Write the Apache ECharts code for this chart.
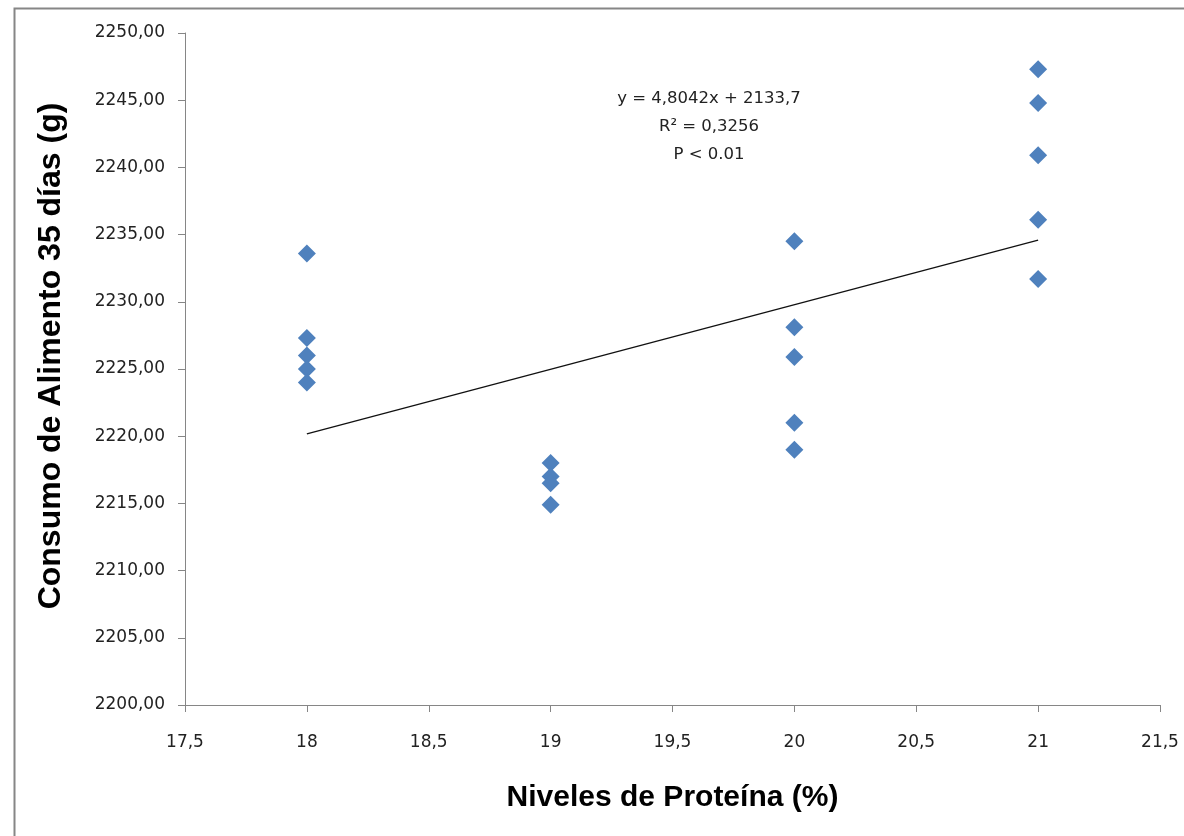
<!DOCTYPE html>
<html>
<head>
<meta charset="utf-8">
<script src="https://cdn.jsdelivr.net/npm/echarts@6/dist/echarts.min.js"></script>
<style>
html,body{margin:0;padding:0;background:#fff;}
#chart{width:1184px;height:836px;}
</style>
</head>
<body>
<div id="chart"></div>
<script>
// Data
const proteinLevels = [18, 19, 20, 21];
const consumo18 = [2233.6, 2227.3, 2226.0, 2225.0, 2224.0];
const consumo19 = [2218.0, 2217.0, 2216.5, 2214.9];
const consumo20 = [2234.5, 2228.1, 2225.9, 2221.0, 2219.0];
const consumo21 = [2247.3, 2244.8, 2240.9, 2236.1, 2231.7];
const trendSlope = 4.8042;
const trendIntercept = 2133.7;
const xTicks = [17.5, 18, 18.5, 19, 19.5, 20, 20.5, 21, 21.5];
const yTicks = [2200, 2205, 2210, 2215, 2220, 2225, 2230, 2235, 2240, 2245, 2250];
const annotationLines = ['y = 4,8042x + 2133,7', 'R² = 0,3256', 'P < 0.01'];

const groups = [consumo18, consumo19, consumo20, consumo21];
const points = [];
groups.forEach((g, i) => g.forEach(v => points.push([proteinLevels[i], v])));
const xMinData = proteinLevels[0], xMaxData = proteinLevels[proteinLevels.length - 1];
const trend = [
  [xMinData, trendSlope * xMinData + trendIntercept],
  [xMaxData, trendSlope * xMaxData + trendIntercept]
];

const fmt = (v, d) => v.toFixed(d).replace('.', ',');
const labelFont = { fontFamily: 'DejaVu Sans', fontSize: 17, color: '#222' };
const annFont = '16.5px "DejaVu Sans"';

const chart = echarts.init(document.getElementById('chart'));
chart.setOption({
  animation: false,
  backgroundColor: '#fff',
  grid: { left: 185, right: 24, top: 33, bottom: 131 },
  xAxis: {
    type: 'value', min: xTicks[0], max: xTicks[xTicks.length - 1], interval: 0.5,
    axisLine: { lineStyle: { color: '#868686', width: 1 } },
    axisTick: { show: true, inside: false, length: 7, lineStyle: { color: '#868686' } },
    axisLabel: Object.assign({ margin: 29, formatter: v => (Number.isInteger(v) ? String(v) : fmt(v, 1)) }, labelFont),
    splitLine: { show: false },
    name: 'Niveles de Proteína (%)', nameLocation: 'middle', nameGap: 78,
    nameTextStyle: { fontFamily: 'Liberation Sans', fontWeight: 'bold', fontSize: 30, color: '#000' }
  },
  yAxis: {
    type: 'value', min: yTicks[0], max: yTicks[yTicks.length - 1], interval: 5,
    axisLine: { show: true, lineStyle: { color: '#868686', width: 1 } },
    axisTick: { show: true, inside: false, length: 7, lineStyle: { color: '#868686' } },
    axisLabel: Object.assign({ margin: 20, formatter: v => fmt(v, 2) }, labelFont),
    splitLine: { show: false },
    name: 'Consumo de Alimento 35 días (g)', nameLocation: 'middle', nameGap: 118,
    nameTextStyle: { fontFamily: 'Liberation Sans', fontWeight: 'bold', fontSize: 32, color: '#000', padding: [0, 0, 0, 26] }
  },
  series: [
    {
      type: 'scatter', data: points, symbol: 'diamond', symbolSize: [18, 18],
      itemStyle: { color: '#4F81BD', opacity: 1 }, z: 3
    },
    {
      type: 'line', data: trend, symbol: 'none',
      lineStyle: { color: '#111', width: 1.3 }, z: 2
    }
  ],
  graphic: [
    { type: 'rect', left: 12, top: 6, shape: { width: 1180, height: 860 },
      style: { fill: 'none', stroke: '#868686', lineWidth: 2 }, silent: true },
    { type: 'text', x: 709, y: 99, style: { text: annotationLines[0], textAlign: 'center', textVerticalAlign: 'middle', font: annFont, fill: '#222' } },
    { type: 'text', x: 709, y: 127, style: { text: annotationLines[1], textAlign: 'center', textVerticalAlign: 'middle', font: annFont, fill: '#222' } },
    { type: 'text', x: 709, y: 155, style: { text: annotationLines[2], textAlign: 'center', textVerticalAlign: 'middle', font: annFont, fill: '#222' } }
  ]
});
</script>
</body>
</html>
